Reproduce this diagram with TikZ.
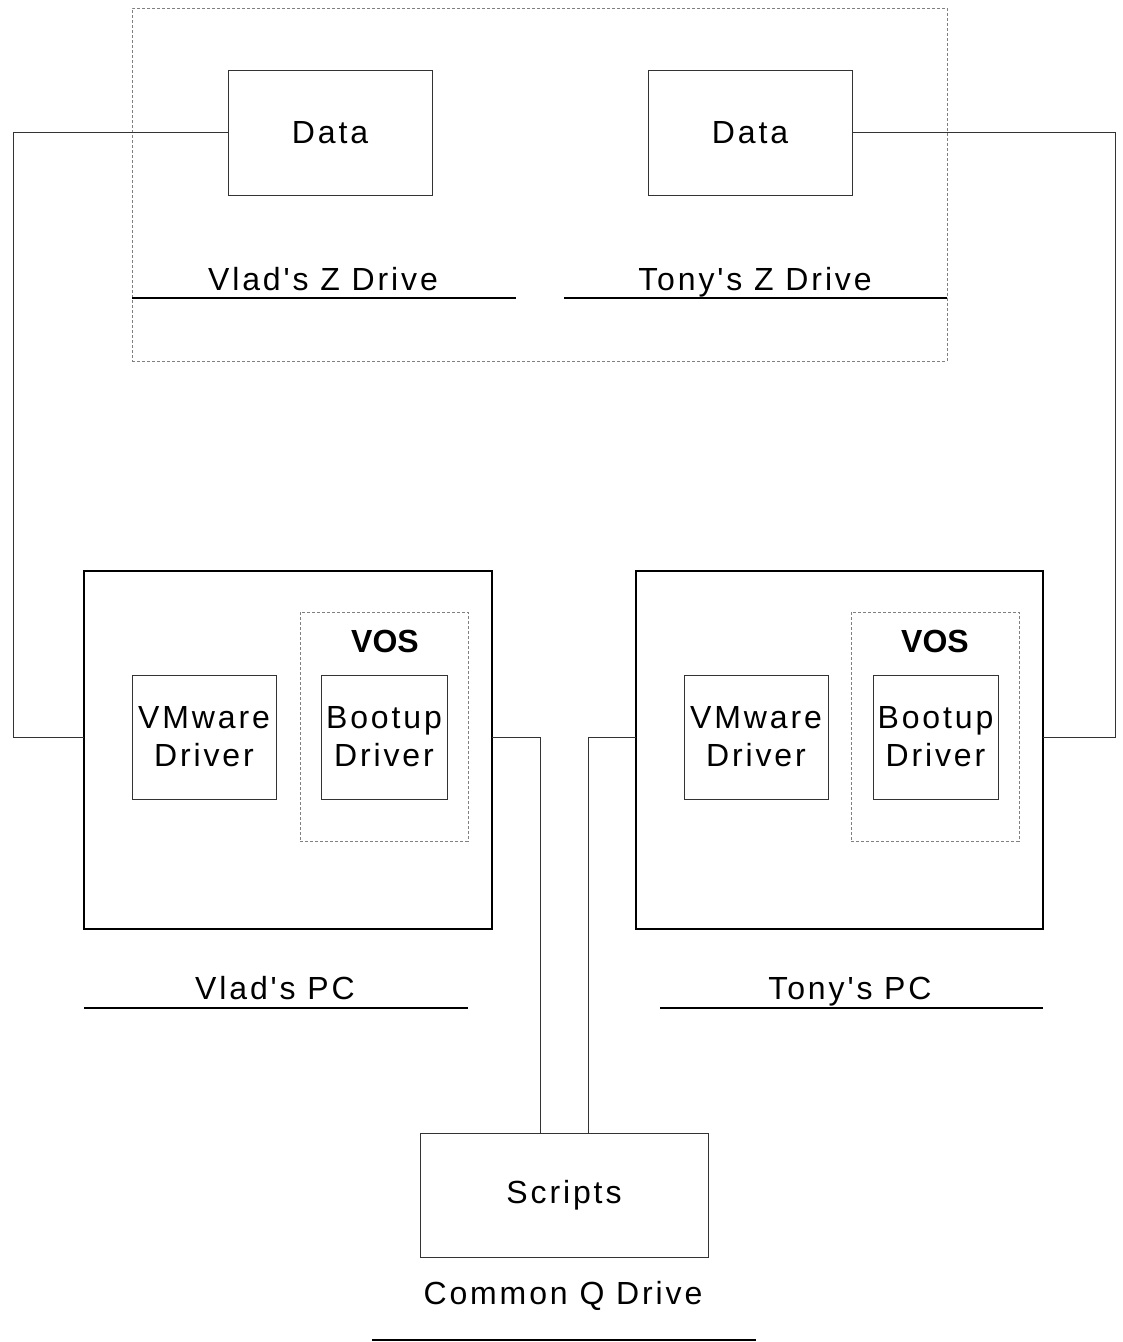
\documentclass[tikz,border=0pt]{standalone}
\usepackage{fontspec}
\setmainfont[LetterSpace=9,Ligatures=TeXOff]{Liberation Sans}
\newfontfamily\vosfont[Ligatures=TeXOff]{Liberation Sans}
\begin{document}
\begin{tikzpicture}[x=0.75pt,y=-0.75pt,
  every node/.style={font=\fontsize{24}{28.5}\selectfont, inner sep=0pt, outer sep=0pt},
  box/.style={draw=black!80, line width=0.75pt, align=center},
  pcbox/.style={draw=black, line width=1.5pt},
  grp/.style={draw=black!50, line width=0.75pt, dash pattern=on 2.25pt off 1.5pt},
  wire/.style={draw=black!80, line width=0.75pt},
  rulel/.style={draw=black, line width=1.5pt},
  lbl/.style={anchor=base},
  voslbl/.style={anchor=base, font=\vosfont\fontsize{24}{28.5}\selectfont\bfseries}
]
\useasboundingbox (0,0) rectangle (1122,1342);

% Z drives group
\node[grp, minimum width=611.25pt, minimum height=264.75pt] (zgroup) at (539.5,184.5) {};
\node[box, minimum width=153pt, minimum height=93.75pt] (data1) at (330,132.5) {Data};
\node[box, minimum width=153pt, minimum height=93.75pt] (data2) at (750,132.5) {Data};
\node[lbl] (vladz) at (323,290) {Vlad's Z Drive};
\node[lbl] (tonyz) at (755,290) {Tony's Z Drive};
\draw[rulel] (132,298) -- (516,298);
\draw[rulel] (564,298) -- (947,298);

% Vlad's PC
\node[pcbox, minimum width=306pt, minimum height=268.5pt] (vladpc) at (288,750) {};
\node[grp, minimum width=126pt, minimum height=171.75pt] (vos1) at (384,726.5) {};
\node[voslbl] (vos1t) at (385,652) {VOS};
\node[box, minimum width=108pt, minimum height=93pt] (vmw1) at (204,737) {VMware\\Driver};
\node[box, minimum width=94.5pt, minimum height=93pt] (boot1) at (384,737) {Bootup\\Driver};
\node[lbl] (vladpct) at (275,999) {Vlad's PC};
\draw[rulel] (84,1008) -- (468,1008);

% Tony's PC
\node[pcbox, minimum width=305.25pt, minimum height=268.5pt] (tonypc) at (839.5,750) {};
\node[grp, minimum width=126pt, minimum height=171.75pt] (vos2) at (935,726.5) {};
\node[voslbl] (vos2t) at (935,652) {VOS};
\node[box, minimum width=108pt, minimum height=93pt] (vmw2) at (756,737) {VMware\\Driver};
\node[box, minimum width=93.75pt, minimum height=93pt] (boot2) at (935.5,737) {Bootup\\Driver};
\node[lbl] (tonypct) at (850,999) {Tony's PC};
\draw[rulel] (660,1008) -- (1043,1008);

% Common Q drive
\node[box, minimum width=216pt, minimum height=93pt] (scripts) at (564,1195) {Scripts};
\node[lbl] (commonq) at (563,1304) {Common Q Drive};
\draw[rulel] (372,1340) -- (756,1340);

% Connections
\draw[wire] (data1.west) -- ++(-215,0) |- ([yshift=9.75pt]vladpc.west);
\draw[wire] (data2.east) -- ++(263,0) |- ([yshift=9.75pt]tonypc.east);
\draw[wire] ([yshift=9.75pt]vladpc.east) -| ([xshift=-18pt]scripts.north);
\draw[wire] ([yshift=9.75pt]tonypc.west) -| ([xshift=18pt]scripts.north);
\end{tikzpicture}
\end{document}
